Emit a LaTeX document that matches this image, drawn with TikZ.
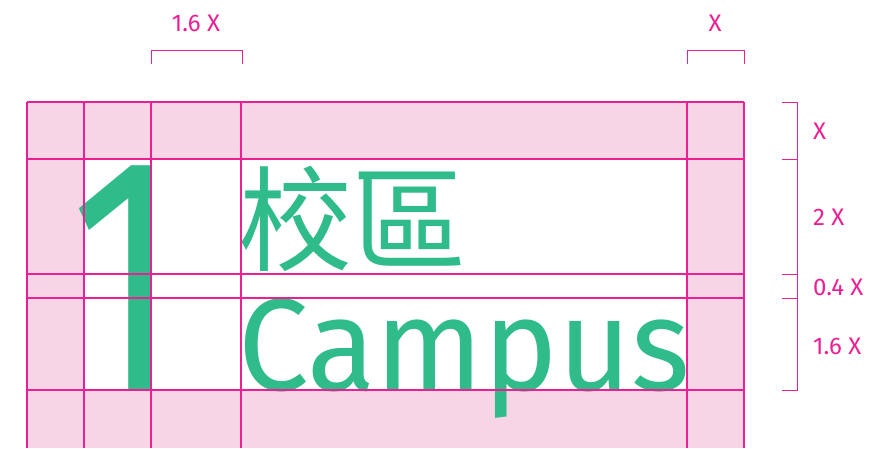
\documentclass[tikz,border=0pt]{standalone}
\usepackage{fontspec}
\usepackage{graphicx}
\usetikzlibrary{positioning}
\newfontfamily\dinfont{Fira Sans}
\newfontfamily\cjkfont{Noto Sans CJK TC}
\definecolor{gridpink}{HTML}{EE1E93}
\definecolor{fillpink}{HTML}{F8D5E6}
\definecolor{logogreen}{HTML}{2FBB8A}

\begin{document}
\begin{tikzpicture}[x=1pt,y=-1pt,
  gridline/.style={draw=gridpink,line width=1.2pt},
  dimline/.style={draw=gridpink,line width=1pt},
  dimlabel/.style={text=gridpink,font=\dinfont\fontsize{24}{24}\selectfont,inner sep=0pt},
  logotext/.style={text=logogreen,inner sep=0pt}]
\useasboundingbox (0,0) rectangle (882,448);

% margins
\fill[fillpink] (27,102) rectangle (744,448);
\fill[white] (84,159) rectangle (687,390);

% logo
\node[logotext,anchor=base west,font=\dinfont\fontsize{336}{336}\selectfont] (one) at (70,390) {\scalebox{0.75}[1]{1}};
\node[logotext,anchor=base west,font=\cjkfont\fontsize{114}{114}\selectfont] (campuszh) at (238,262) {校區};
\node[logotext,anchor=base west,font=\dinfont\fontsize{131}{131}\selectfont] (campusen) at (238,390) {\scalebox{0.96}[1]{Campus}};

% grid
\foreach \gx in {27,84,151,241,687,744}
  \draw[gridline] (\gx,102) -- (\gx,448);
\foreach \gy in {102,159,274,298,390}
  \draw[gridline] (27,\gy) -- (744,\gy);

% top dimensions
\draw[dimline] (151,64) -- (151,50) -- (242,50) -- (242,64);
\node[dimlabel] (dimcol) at (196,23) {1.6 X};
\draw[dimline] (687,64) -- (687,50) -- (744,50) -- (744,64);
\node[dimlabel] (dimmargin) at (715,23) {X};

% right dimensions
\draw[dimline] (782,102) -- (797,102) -- (797,390) -- (782,390);
\foreach \ty in {159,274,298}
  \draw[dimline] (782,\ty) -- (797,\ty);
\node[dimlabel,anchor=west] (dimtop) at (813,131) {X};
\node[dimlabel,anchor=west] (dimzh) at (813,217) {2 X};
\node[dimlabel,anchor=west] (dimgap) at (813,287) {0.4 X};
\node[dimlabel,anchor=west] (dimen) at (813,346) {1.6 X};
\end{tikzpicture}
\end{document}
